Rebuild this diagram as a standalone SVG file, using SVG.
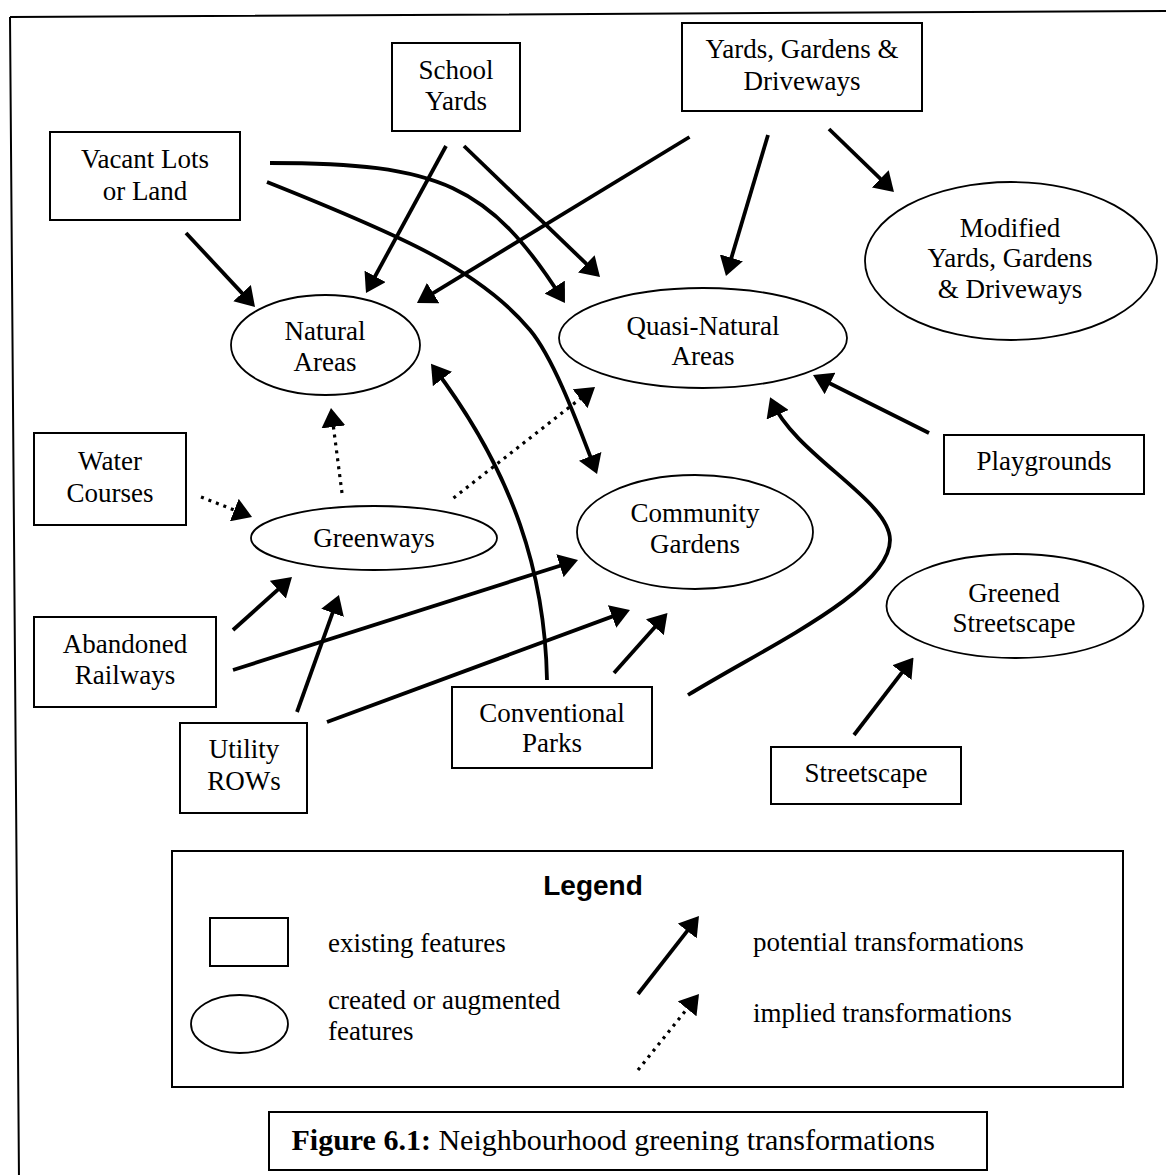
<svg xmlns="http://www.w3.org/2000/svg" width="1166" height="1175" viewBox="0 0 1166 1175">
  <style>
    .box { fill: #fff; stroke: #000; stroke-width: 2; }
    .oval { fill: #fff; stroke: #000; stroke-width: 1.8; }
    .t { font-family: "Liberation Serif", "Times New Roman", serif; font-size: 27px; text-anchor: middle; fill: #000; }
    .lt { font-family: "Liberation Serif", "Times New Roman", serif; font-size: 27px; fill: #000; }
    .solid { fill: none; stroke: #000; stroke-width: 3.8; marker-end: url(#head); }
    .dotted { fill: none; stroke: #000; stroke-width: 3.2; stroke-dasharray: 3 5; marker-end: url(#head); }
  </style>
  <defs>
    <marker id="head" markerUnits="userSpaceOnUse" markerWidth="19" markerHeight="24" refX="15" refY="12" orient="auto" viewBox="0 0 19 24">
      <path d="M0,0 L19,12 L0,24 Z" fill="#000"/>
    </marker>
  </defs>

  <rect width="1166" height="1175" fill="#fff"/>

  <!-- outer frame -->
  <path d="M10,17 L1170,11 M10,17 L19,1180" fill="none" stroke="#000" stroke-width="2"/>

  <!-- connectors -->
  <g id="connectors">
    <!-- from Vacant Lots or Land -->
    <path class="solid" d="M186,233 L252.3,304.1"/>
    <path class="solid" d="M270,163 C440,163 490,185 562.8,299.7"/>
    <path class="solid" d="M267,182 C400,235 480,270 530,330 C555,360 580,430 595.6,470.3"/>
    <!-- from School Yards -->
    <path class="solid" d="M446,146 L367.9,289.5"/>
    <path class="solid" d="M464,146 L597.1,274.2"/>
    <!-- from Yards, Gardens & Driveways -->
    <path class="solid" d="M689.5,137 L420.4,300.9"/>
    <path class="solid" d="M768,135 L727.1,272.2"/>
    <path class="solid" d="M829,129 L891.1,189.2"/>
    <!-- from Playgrounds -->
    <path class="solid" d="M929,433 L816.6,376.8"/>
    <!-- from Water Courses and Greenways -->
    <path class="dotted" d="M201,497 L248.3,515.5"/>
    <path class="dotted" d="M342,493 L331.5,412"/>
    <path class="dotted" d="M453.5,498 L591.9,389.5"/>
    <!-- from Abandoned Railways -->
    <path class="solid" d="M233,630 L289,579.7"/>
    <path class="solid" d="M233,670 L574.2,561.2"/>
    <!-- from Utility ROWs -->
    <path class="solid" d="M297,712 L337.6,598.8"/>
    <path class="solid" d="M327,722 L626.2,611.4"/>
    <!-- from Conventional Parks -->
    <path class="solid" d="M547,680 C545,575 515,475 433.4,367"/>
    <path class="solid" d="M614,673 L664.8,616"/>
    <path class="solid" d="M688,695 C770,645 890,590 890,540 C890,500 795,455 771.7,401"/>
    <!-- from Streetscape -->
    <path class="solid" d="M854,735 L911.1,660.7"/>
  </g>

  <!-- existing features -->
  <g id="school-yards">
    <rect class="box" x="392" y="43" width="128" height="88"/>
    <text class="t" x="456" y="79">School</text>
    <text class="t" x="456" y="110">Yards</text>
  </g>
  <g id="yards-gardens-driveways">
    <rect class="box" x="682" y="23" width="240" height="88"/>
    <text class="t" x="802" y="58">Yards, Gardens &amp;</text>
    <text class="t" x="802" y="90">Driveways</text>
  </g>
  <g id="vacant-lots">
    <rect class="box" x="50" y="132" width="190" height="88"/>
    <text class="t" x="145" y="168">Vacant Lots</text>
    <text class="t" x="145" y="200">or Land</text>
  </g>
  <g id="water-courses">
    <rect class="box" x="34" y="433" width="152" height="92"/>
    <text class="t" x="110" y="470">Water</text>
    <text class="t" x="110" y="502">Courses</text>
  </g>
  <g id="abandoned-railways">
    <rect class="box" x="34" y="617" width="182" height="90"/>
    <text class="t" x="125" y="653">Abandoned</text>
    <text class="t" x="125" y="684">Railways</text>
  </g>
  <g id="utility-rows">
    <rect class="box" x="180" y="723" width="127" height="90"/>
    <text class="t" x="244" y="758">Utility</text>
    <text class="t" x="244" y="790">ROWs</text>
  </g>
  <g id="conventional-parks">
    <rect class="box" x="452" y="687" width="200" height="81"/>
    <text class="t" x="552" y="722">Conventional</text>
    <text class="t" x="552" y="752">Parks</text>
  </g>
  <g id="playgrounds">
    <rect class="box" x="944" y="435" width="200" height="59"/>
    <text class="t" x="1044" y="470">Playgrounds</text>
  </g>
  <g id="streetscape">
    <rect class="box" x="771" y="747" width="190" height="57"/>
    <text class="t" x="866" y="782">Streetscape</text>
  </g>

  <!-- created or augmented features -->
  <g id="natural-areas">
    <ellipse class="oval" cx="325.5" cy="345" rx="94.5" ry="50"/>
    <text class="t" x="325" y="340">Natural</text>
    <text class="t" x="325" y="371">Areas</text>
  </g>
  <g id="quasi-natural-areas">
    <ellipse class="oval" cx="703" cy="338" rx="144" ry="50"/>
    <text class="t" x="703" y="335">Quasi-Natural</text>
    <text class="t" x="703" y="365">Areas</text>
  </g>
  <g id="modified-yards">
    <ellipse class="oval" cx="1011" cy="261" rx="146" ry="79"/>
    <text class="t" x="1010" y="237">Modified</text>
    <text class="t" x="1010" y="267">Yards, Gardens</text>
    <text class="t" x="1010" y="298">&amp; Driveways</text>
  </g>
  <g id="greenways">
    <ellipse class="oval" cx="374" cy="538" rx="123" ry="32"/>
    <text class="t" x="374" y="547">Greenways</text>
  </g>
  <g id="community-gardens">
    <ellipse class="oval" cx="695" cy="532" rx="118" ry="57"/>
    <text class="t" x="695" y="522">Community</text>
    <text class="t" x="695" y="553">Gardens</text>
  </g>
  <g id="greened-streetscape">
    <ellipse class="oval" cx="1015" cy="606" rx="128.5" ry="52"/>
    <text class="t" x="1014" y="602">Greened</text>
    <text class="t" x="1014" y="632">Streetscape</text>
  </g>

  <!-- legend -->
  <g id="legend">
    <rect class="box" x="172" y="851" width="951" height="236"/>
    <text x="593" y="895" text-anchor="middle" font-family="'Liberation Sans', Arial, sans-serif" font-weight="bold" font-size="28">Legend</text>
    <rect class="box" x="210" y="918" width="78" height="48"/>
    <text class="lt" x="328" y="952">existing features</text>
    <ellipse class="oval" cx="239.5" cy="1024" rx="48.5" ry="29"/>
    <text class="lt" x="328" y="1009">created or augmented</text>
    <text class="lt" x="328" y="1040">features</text>
    <path class="solid" d="M638,994 L696.5,919.2"/>
    <path class="dotted" d="M638,1070 L696.5,997.1"/>
    <text class="lt" x="753" y="951">potential transformations</text>
    <text class="lt" x="753" y="1022">implied transformations</text>
  </g>

  <!-- caption -->
  <g id="caption">
    <rect class="box" x="269" y="1112" width="718" height="58"/>
    <text x="291.5" y="1150" font-family="'Liberation Serif', 'Times New Roman', serif" font-size="30"><tspan font-weight="bold">Figure 6.1:</tspan> Neighbourhood greening transformations</text>
  </g>
</svg>
